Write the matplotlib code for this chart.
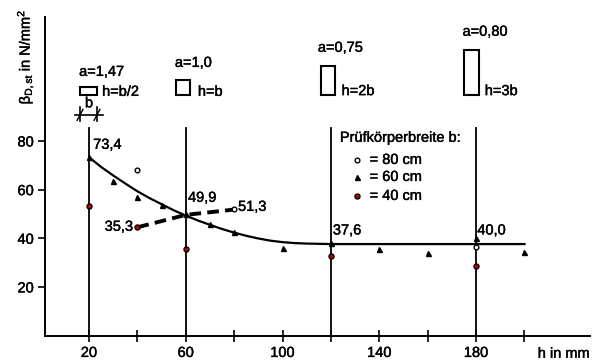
import numpy as np
import matplotlib
matplotlib.use("Agg")
import matplotlib.pyplot as plt
import matplotlib.patheffects as pe
from matplotlib.patches import Rectangle

plt.rcParams["font.family"] = ["Liberation Sans", "DejaVu Sans"]
plt.rcParams["font.size"] = 10.5
plt.rcParams["mathtext.fontset"] = "custom"
plt.rcParams["mathtext.rm"] = "Liberation Sans"

# ---- data ----
h_60 = [20, 30, 40, 50, 60, 70, 80, 100, 120, 140, 160, 180, 200]
b_60 = [73.4, 63.5, 57, 53.5, 49.9, 46, 42.5, 36, 37.9, 35.5, 34, 40.0, 34.5]
h_80 = [40, 80, 180]
b_80 = [68, 52, 36.3]
h_40 = [20, 40, 60, 120, 180]
b_40 = [53.2, 44.5, 35.4, 32.6, 28.6]

# fitted curve (solid) and the dashed trend for b = 80 cm
curve_h = [21, 25, 30, 35, 40, 45, 50, 55, 60, 65, 70, 75, 80, 85, 90, 95, 100, 105, 110, 115, 120, 200]
curve_b = [72.5, 69.3, 65.8, 62.5, 59.3, 56.5, 54.0, 51.5, 49.3, 47.3, 45.5, 43.8, 42.3, 41.0, 39.9, 39.0, 38.4, 38.0, 37.8, 37.7, 37.6, 37.6]
dash_h = [40, 60, 80]
dash_b = [44.5, 49.6, 51.8]

vlines_h = [20, 60, 120, 180]
xticks_major = [20, 60, 100, 140, 180]
xticks_minor = [40, 80, 120, 160, 200]
yticks = [20, 40, 60, 80]

RED = "#c00000"
heavy = [pe.withStroke(linewidth=0.3, foreground="black")]

fig = plt.figure(figsize=(6, 3.6), dpi=100)
ax = fig.add_axes([0.075, 0.068, 0.908, 0.885])
ax.set_xlim(1.8, 227)
ax.set_ylim(0, 131)

for s in ["top", "right"]:
    ax.spines[s].set_visible(False)
for s in ["left", "bottom"]:
    ax.spines[s].set_linewidth(1.4)

ax.set_xticks(xticks_major)
ax.set_xticks(xticks_minor, minor=True)
ax.set_yticks(yticks)
ax.tick_params(axis="x", which="both", direction="inout", length=9, width=1.2, pad=3)
ax.tick_params(axis="y", direction="out", length=5, width=1.2, pad=3)
for lab in ax.get_xticklabels() + ax.get_yticklabels():
    lab.set_path_effects(heavy)

# vertical reference lines
for h in vlines_h:
    ax.plot([h, h], [0, 85.4], color="black", lw=1.3)

ax.plot(curve_h, curve_b, color="black", lw=1.6)
ax.plot(dash_h, dash_b, color="black", lw=2.8, ls=(0, (3, 1.6)))

ax.plot(h_60, b_60, ls="none", marker="^", ms=3.6, color="black", zorder=5)
ax.plot(h_80, b_80, ls="none", marker="o", ms=3.4, mfc="white", mec="black", mew=1, zorder=5)
ax.plot(h_40, b_40, ls="none", marker="o", ms=3.6, mfc=RED, mec="black", mew=1, zorder=5)


def label(x, y, s, **kw):
    kw.setdefault("va", "center")
    kw.setdefault("ha", "left")
    return ax.text(x, y, s, path_effects=heavy, clip_on=False, **kw)


# value labels
label(21.7, 78.4, "73,4")
label(60.9, 56.6, "49,9")
label(81.6, 52.9, "51,3")
label(38.2, 44.7, "35,3", ha="right")
label(120.8, 43.2, "37,6")
label(180.5, 43.2, "40,0")

# legend block
label(123.7, 81.3, "Prüfkörperbreite b:")
ax.plot([130.7], [72.2], marker="o", ms=3.4, mfc="white", mec="black", mew=1)
ax.plot([130.7], [65.2], marker="^", ms=3.6, color="black")
ax.plot([130.7], [57.4], marker="o", ms=3.6, mfc=RED, mec="black", mew=1)
label(136, 72.2, "= 80 cm")
label(136, 65.2, "= 60 cm")
label(136, 57.4, "= 40 cm")

# specimen shapes
for x0, x1, y0, y1 in [(16.3, 23.3, 98.8, 102.1), (56, 61.7, 99, 105.1),
                       (115.9, 121.7, 99, 110.9), (175, 181.2, 99, 117.5)]:
    ax.add_patch(Rectangle((x0, y0), x1 - x0, y1 - y0, fill=False, ec="black", lw=1.5, clip_on=False))

label(15.9, 108.4, "a=1,47")
label(25.4, 100.2, "h=b/2")
label(55.5, 112.1, "a=1,0")
label(65, 100.2, "h=b")
label(114.6, 118.3, "a=0,75")
label(124.4, 100.5, "h=2b")
label(174.4, 124.9, "a=0,80")
label(183.6, 100.5, "h=3b")

# dimension "b"
ax.plot([14.2, 25.8], [90.7, 90.7], color="black", lw=1.2, clip_on=False)
for xb in [16.3, 23.3]:
    ax.plot([xb, xb], [88, 94], color="black", lw=1.2, clip_on=False)
    ax.plot([xb - 1.2, xb + 1.2], [88.5, 93], color="black", lw=1.0, clip_on=False)
label(20, 95.5, "b", ha="center")

label(205.5, -7.5, "h in mm")
label(-6.4, 114.6, r"$\mathregular{\beta_{D,st}}$ in N/mm$\mathregular{^2}$", rotation=90,
      ha="center")

fig.savefig("out.png", dpi=100)
